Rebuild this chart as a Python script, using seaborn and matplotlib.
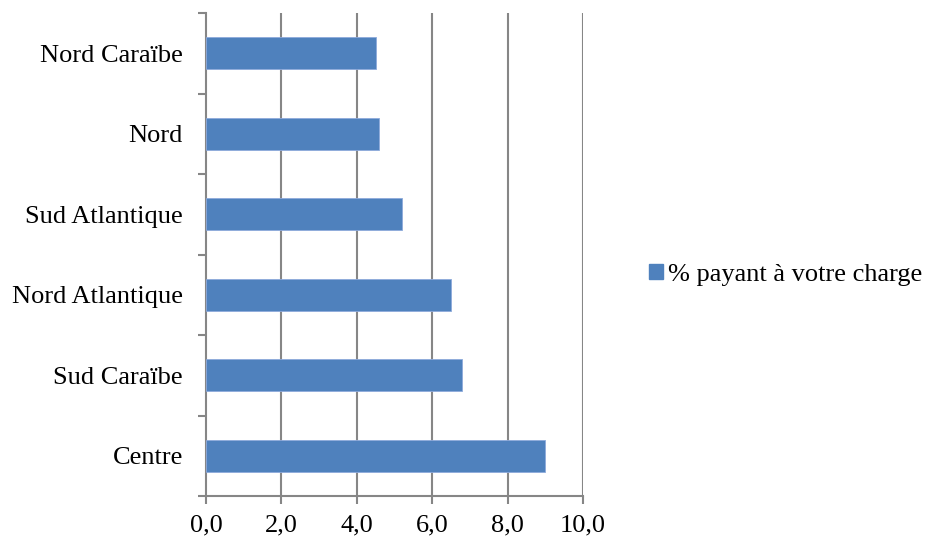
import matplotlib
matplotlib.use("Agg")
import matplotlib.pyplot as plt
import seaborn as sns
import pandas as pd
from matplotlib.patches import Patch
from matplotlib.ticker import FixedLocator, FuncFormatter

# Data: share paying at own expense, by region
regions = ["Nord Caraïbe", "Nord", "Sud Atlantique", "Nord Atlantique", "Sud Caraïbe", "Centre"]
values = [4.5, 4.6, 5.2, 6.5, 6.8, 9.0]
series_name = "% payant à votre charge"
x_ticks = [0, 2, 4, 6, 8, 10]

df = pd.DataFrame({"region": regions, "value": values})

sns.set_theme(style="white")
plt.rcParams["font.family"] = ["Liberation Serif", "DejaVu Serif"]
plt.rcParams["text.color"] = "black"
plt.rcParams["xtick.labelcolor"] = "black"
plt.rcParams["ytick.labelcolor"] = "black"

bar_color = "#4F81BD"
grid_color = "#868686"

fig = plt.figure(figsize=(9.27, 5.39), dpi=100)
ax = fig.add_axes([206 / 927, 1 - 496 / 539, (583 - 206) / 927, (496 - 13) / 539])

sns.barplot(data=df, x="value", y="region", orient="h", color=bar_color,
            width=0.4, saturation=1, edgecolor="#8EAADB", linewidth=0.6, ax=ax, zorder=3)

ax.set_xlim(0, 10)
ax.set_ylim(len(regions) - 0.5, -0.5)
ax.set_xlabel("")
ax.set_ylabel("")

# Vertical gridlines
ax.xaxis.set_major_locator(FixedLocator(x_ticks))
ax.xaxis.set_major_formatter(FuncFormatter(lambda v, p: f"{v:.1f}".replace(".", ",")))
for xv in x_ticks[1:]:
    ax.axvline(xv, color=grid_color, linewidth=1.5, zorder=1)
ax.grid(False)

# Spines
for side in ["top", "right"]:
    ax.spines[side].set_visible(False)
for side in ["left", "bottom"]:
    ax.spines[side].set_visible(True)
    ax.spines[side].set_color(grid_color)
    ax.spines[side].set_linewidth(1.5)

# Ticks
ax.tick_params(axis="x", which="major", direction="out", length=6, width=1.5,
               color=grid_color, labelsize=19, pad=7.5, bottom=True, labelcolor="black")
ax.tick_params(axis="y", which="major", length=0, labelsize=19, pad=16.5, labelcolor="black")
ax.yaxis.set_minor_locator(FixedLocator([i - 0.5 for i in range(len(regions) + 1)]))
ax.tick_params(axis="y", which="minor", direction="out", length=6, width=1.5,
               color=grid_color, left=True)

# Legend
handle = Patch(facecolor=bar_color, edgecolor=bar_color, label=series_name)
leg = fig.legend(handles=[handle], loc="center left", bbox_to_anchor=(649 / 927, 1 - 275 / 539),
                 frameon=False, fontsize=19, handlelength=0.52, handleheight=0.52,
                 handletextpad=0.2, borderaxespad=0, borderpad=0)
for t in leg.get_texts():
    t.set_color("black")

fig.savefig("out.png", dpi=100)
